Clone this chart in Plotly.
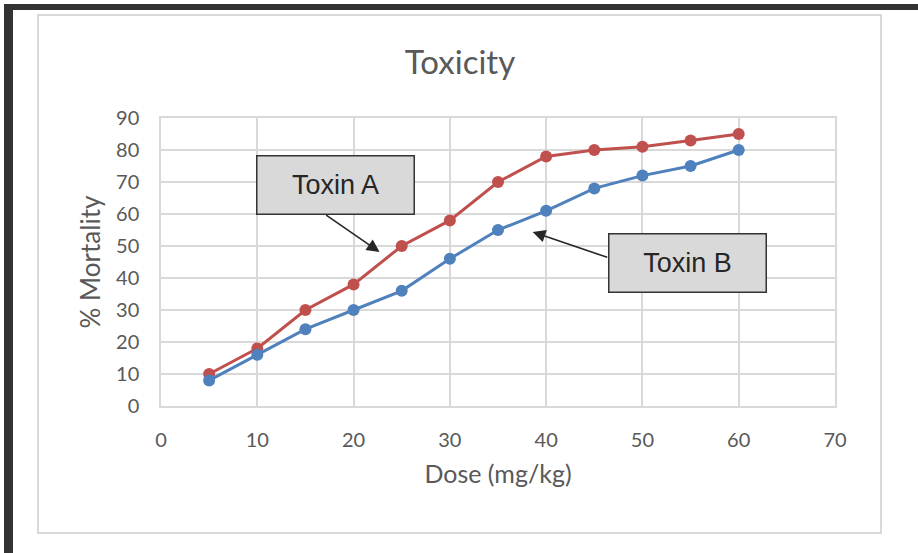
import plotly.graph_objects as go

# Datos
dose = [5, 10, 15, 20, 25, 30, 35, 40, 45, 50, 55, 60]
toxin_a = [10, 18, 30, 38, 50, 58, 70, 78, 80, 81, 83, 85]
toxin_b = [8, 16, 24, 30, 36, 46, 55, 61, 68, 72, 75, 80]

x_ticks = [0, 10, 20, 30, 40, 50, 60, 70]
y_ticks = [0, 10, 20, 30, 40, 50, 60, 70, 80, 90]

RED = "#C0504D"
BLUE = "#4F81BD"
GREY_TXT = "#595959"
GRID = "#D9D9D9"

# Márgenes en píxeles (ventana 918x553)
W, H = 918, 553
L, R, T, B = 161, 83, 118, 147
pw, ph = W - L - R, H - T - B


def px_x(p):
    return (p - L) / pw


def px_y(p):
    return (H - B - p) / ph


fig = go.Figure()

fig.add_trace(go.Scatter(x=dose, y=toxin_a, mode="lines+markers", name="Toxin A",
                         line=dict(color=RED, width=3),
                         marker=dict(color=RED, size=12)))
fig.add_trace(go.Scatter(x=dose, y=toxin_b, mode="lines+markers", name="Toxin B",
                         line=dict(color=BLUE, width=3),
                         marker=dict(color=BLUE, size=12)))

axis_font = dict(family="Lato, Carlito, sans-serif", size=20, color=GREY_TXT)

fig.update_xaxes(range=[0, 70], tickvals=x_ticks, showgrid=True, gridcolor=GRID, gridwidth=1.5,
                 showline=True, linecolor=GRID, linewidth=1.5, mirror=True, zeroline=False,
                 tickfont=axis_font, ticklabelstandoff=15,
                 title=dict(text="Dose (mg/kg)", font=dict(family="Lato, sans-serif", size=25, color=GREY_TXT),
                            standoff=16))
fig.update_yaxes(range=[0, 90], tickvals=y_ticks, showgrid=True, gridcolor=GRID, gridwidth=1.5,
                 showline=True, linecolor=GRID, linewidth=1.5, mirror=True, zeroline=False,
                 tickfont=axis_font, ticklabelstandoff=16,
                 title=dict(text="% Mortality", font=dict(family="Lato, sans-serif", size=26, color=GREY_TXT),
                            standoff=8))

# Cuadros de texto con flechas
box = dict(showarrow=False, bgcolor="#D9D9D9", bordercolor="#333333", borderwidth=1.5,
           width=154, height=55, font=dict(family="Liberation Sans, Arial, sans-serif", size=27, color="#262626"))
arrow = dict(text="", showarrow=True, arrowhead=2, arrowsize=1.6, arrowwidth=1.6, arrowcolor="#262626",
             xref="x", yref="y", axref="x", ayref="y")

annotations = [
    dict(x=18.1, y=69.2, text="Toxin A", xref="x", yref="y", **box),
    dict(x=54.7, y=44.8, text="Toxin B", xref="x", yref="y", **box),
    dict(x=22.7, y=48.1, ax=17.0, ay=60.0, **arrow),
    dict(x=38.6, y=54.4, ax=46.5, ay=46.3, **arrow),
]

# Marco del gráfico y borde oscuro de la captura
shapes = [
    dict(type="rect", xref="paper", yref="paper", x0=px_x(38), x1=px_x(881), y0=px_y(533), y1=px_y(15),
         line=dict(color="#D9D9D9", width=2), fillcolor="rgba(0,0,0,0)", layer="below"),
    dict(type="rect", xref="paper", yref="paper", x0=px_x(4), x1=px_x(13), y0=px_y(560), y1=px_y(4),
         line=dict(width=0), fillcolor="#333333"),
    dict(type="rect", xref="paper", yref="paper", x0=px_x(4), x1=px_x(925), y0=px_y(10), y1=px_y(4),
         line=dict(width=0), fillcolor="#333333"),
]

fig.update_layout(
    width=W, height=H,
    margin=dict(l=L, r=R, t=T, b=B, autoexpand=False),
    paper_bgcolor="white", plot_bgcolor="white",
    showlegend=False,
    title=dict(text="Toxicity", x=px_x(460), xref="paper", xanchor="center",
               y=1 - 62 / H, yanchor="middle",
               font=dict(family="Lato, sans-serif", size=33, color=GREY_TXT)),
    annotations=annotations,
    shapes=shapes,
)

# quitar el margen del body para que la figura empiece en (0, 0)
fig.write_html("out.html", config={"displayModeBar": False},
               post_script="document.body.style.margin='0';")
